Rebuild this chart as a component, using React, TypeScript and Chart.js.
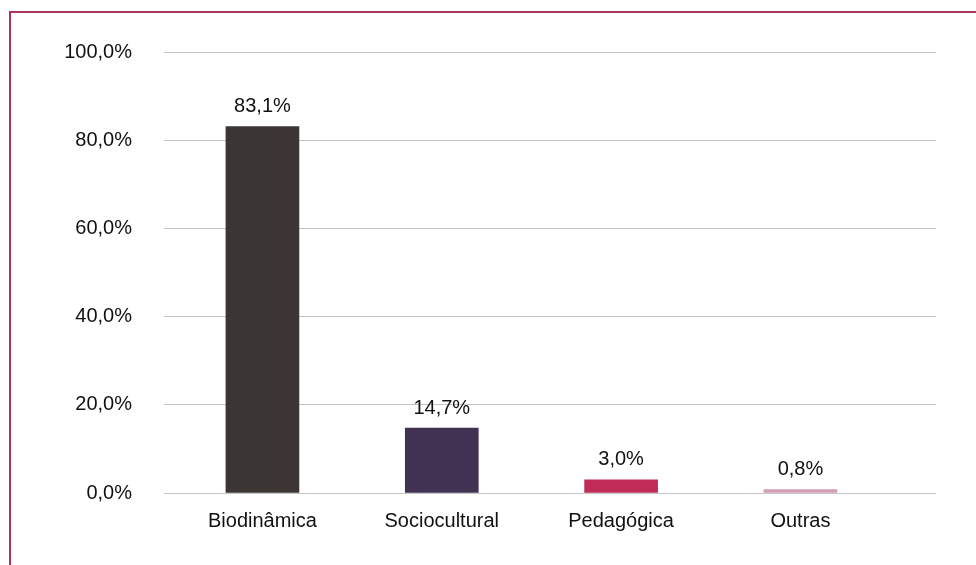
import React, { useEffect, useRef } from "react";
import { Chart, registerables } from "chart.js";

Chart.register(...registerables);

const categories = ["Biodinâmica", "Sociocultural", "Pedagógica", "Outras"];
const values = [83.1, 14.7, 3.0, 0.8];
const valueLabels = ["83,1%", "14,7%", "3,0%", "0,8%"];
const barColors = ["#3b3633", "#413152", "#c02b58", "#d39db5"];
const yTicks = [0, 20, 40, 60, 80, 100];

const FONT = "Arial, 'Liberation Sans', sans-serif";

export default function App() {
  const ref = useRef<HTMLCanvasElement | null>(null);

  useEffect(() => {
    document.documentElement.style.overflow = "hidden";
    document.body.style.overflow = "hidden";
    const canvas = ref.current;
    if (!canvas) return;

    const labelPlugin = {
      id: "valueLabels",
      afterDatasetsDraw(chart: any) {
        const ctx = chart.ctx;
        const meta = chart.getDatasetMeta(0);
        ctx.save();
        ctx.font = `20px ${FONT}`;
        ctx.fillStyle = "#111111";
        ctx.textAlign = "center";
        ctx.textBaseline = "middle";
        meta.data.forEach((bar: any, i: number) => {
          ctx.fillText(valueLabels[i], bar.x, bar.y - 20);
        });
        ctx.restore();
      },
    };

    const chart = new Chart(canvas, {
      type: "bar",
      data: {
        datasets: [
          {
            data: values.map((v, i) => ({ x: i, y: v })),
            backgroundColor: barColors,
            borderWidth: 0,
            barThickness: 73,
          },
        ],
      },
      options: {
        animation: false,
        responsive: false,
        maintainAspectRatio: false,
        layout: { padding: { left: 0, top: 52, right: 40, bottom: 0 } },
        plugins: {
          legend: { display: false },
          tooltip: { enabled: false },
        },
        scales: {
          x: {
            type: "linear",
            offset: false,
            min: -0.549,
            max: 3.756,
            grid: { display: false },
            border: { display: false },
            afterBuildTicks: (scale: any) => {
              scale.ticks = categories.map((_, i) => ({ value: i }));
            },
            afterFit: (scale: any) => {
              scale.height = 72;
            },
            ticks: {
              autoSkip: false,
              maxRotation: 0,
              padding: 8,
              color: "#111111",
              font: { family: FONT, size: 20 },
              callback: (v: any) => categories[Number(v)] ?? "",
            },
          },
          y: {
            min: 0,
            max: 100,
            afterBuildTicks: (scale: any) => {
              scale.ticks = yTicks.map((v) => ({ value: v }));
            },
            afterFit: (scale: any) => {
              scale.width = 164;
            },
            grid: { color: "#c4c4c4", lineWidth: 1, drawTicks: false },
            border: { display: false },
            ticks: {
              padding: 32,
              color: "#111111",
              font: { family: FONT, size: 20 },
              callback: (v: any) => Number(v).toFixed(1).replace(".", ",") + "%",
            },
          },
        },
      },
      plugins: [labelPlugin],
    });

    return () => chart.destroy();
  }, []);

  return (
    <div
      style={{
        position: "fixed",
        left: 0,
        top: 0,
        width: 976,
        height: 565,
        overflow: "hidden",
        background: "#ffffff",
      }}
    >
      <div
        style={{
          position: "absolute",
          left: 9,
          top: 11,
          width: 1000,
          height: 600,
          border: "2px solid #a8355f",
          boxSizing: "border-box",
        }}
      />
      <canvas
        ref={ref}
        width={976}
        height={565}
        style={{ position: "absolute", left: 0, top: 0, width: 976, height: 565 }}
      />
    </div>
  );
}
